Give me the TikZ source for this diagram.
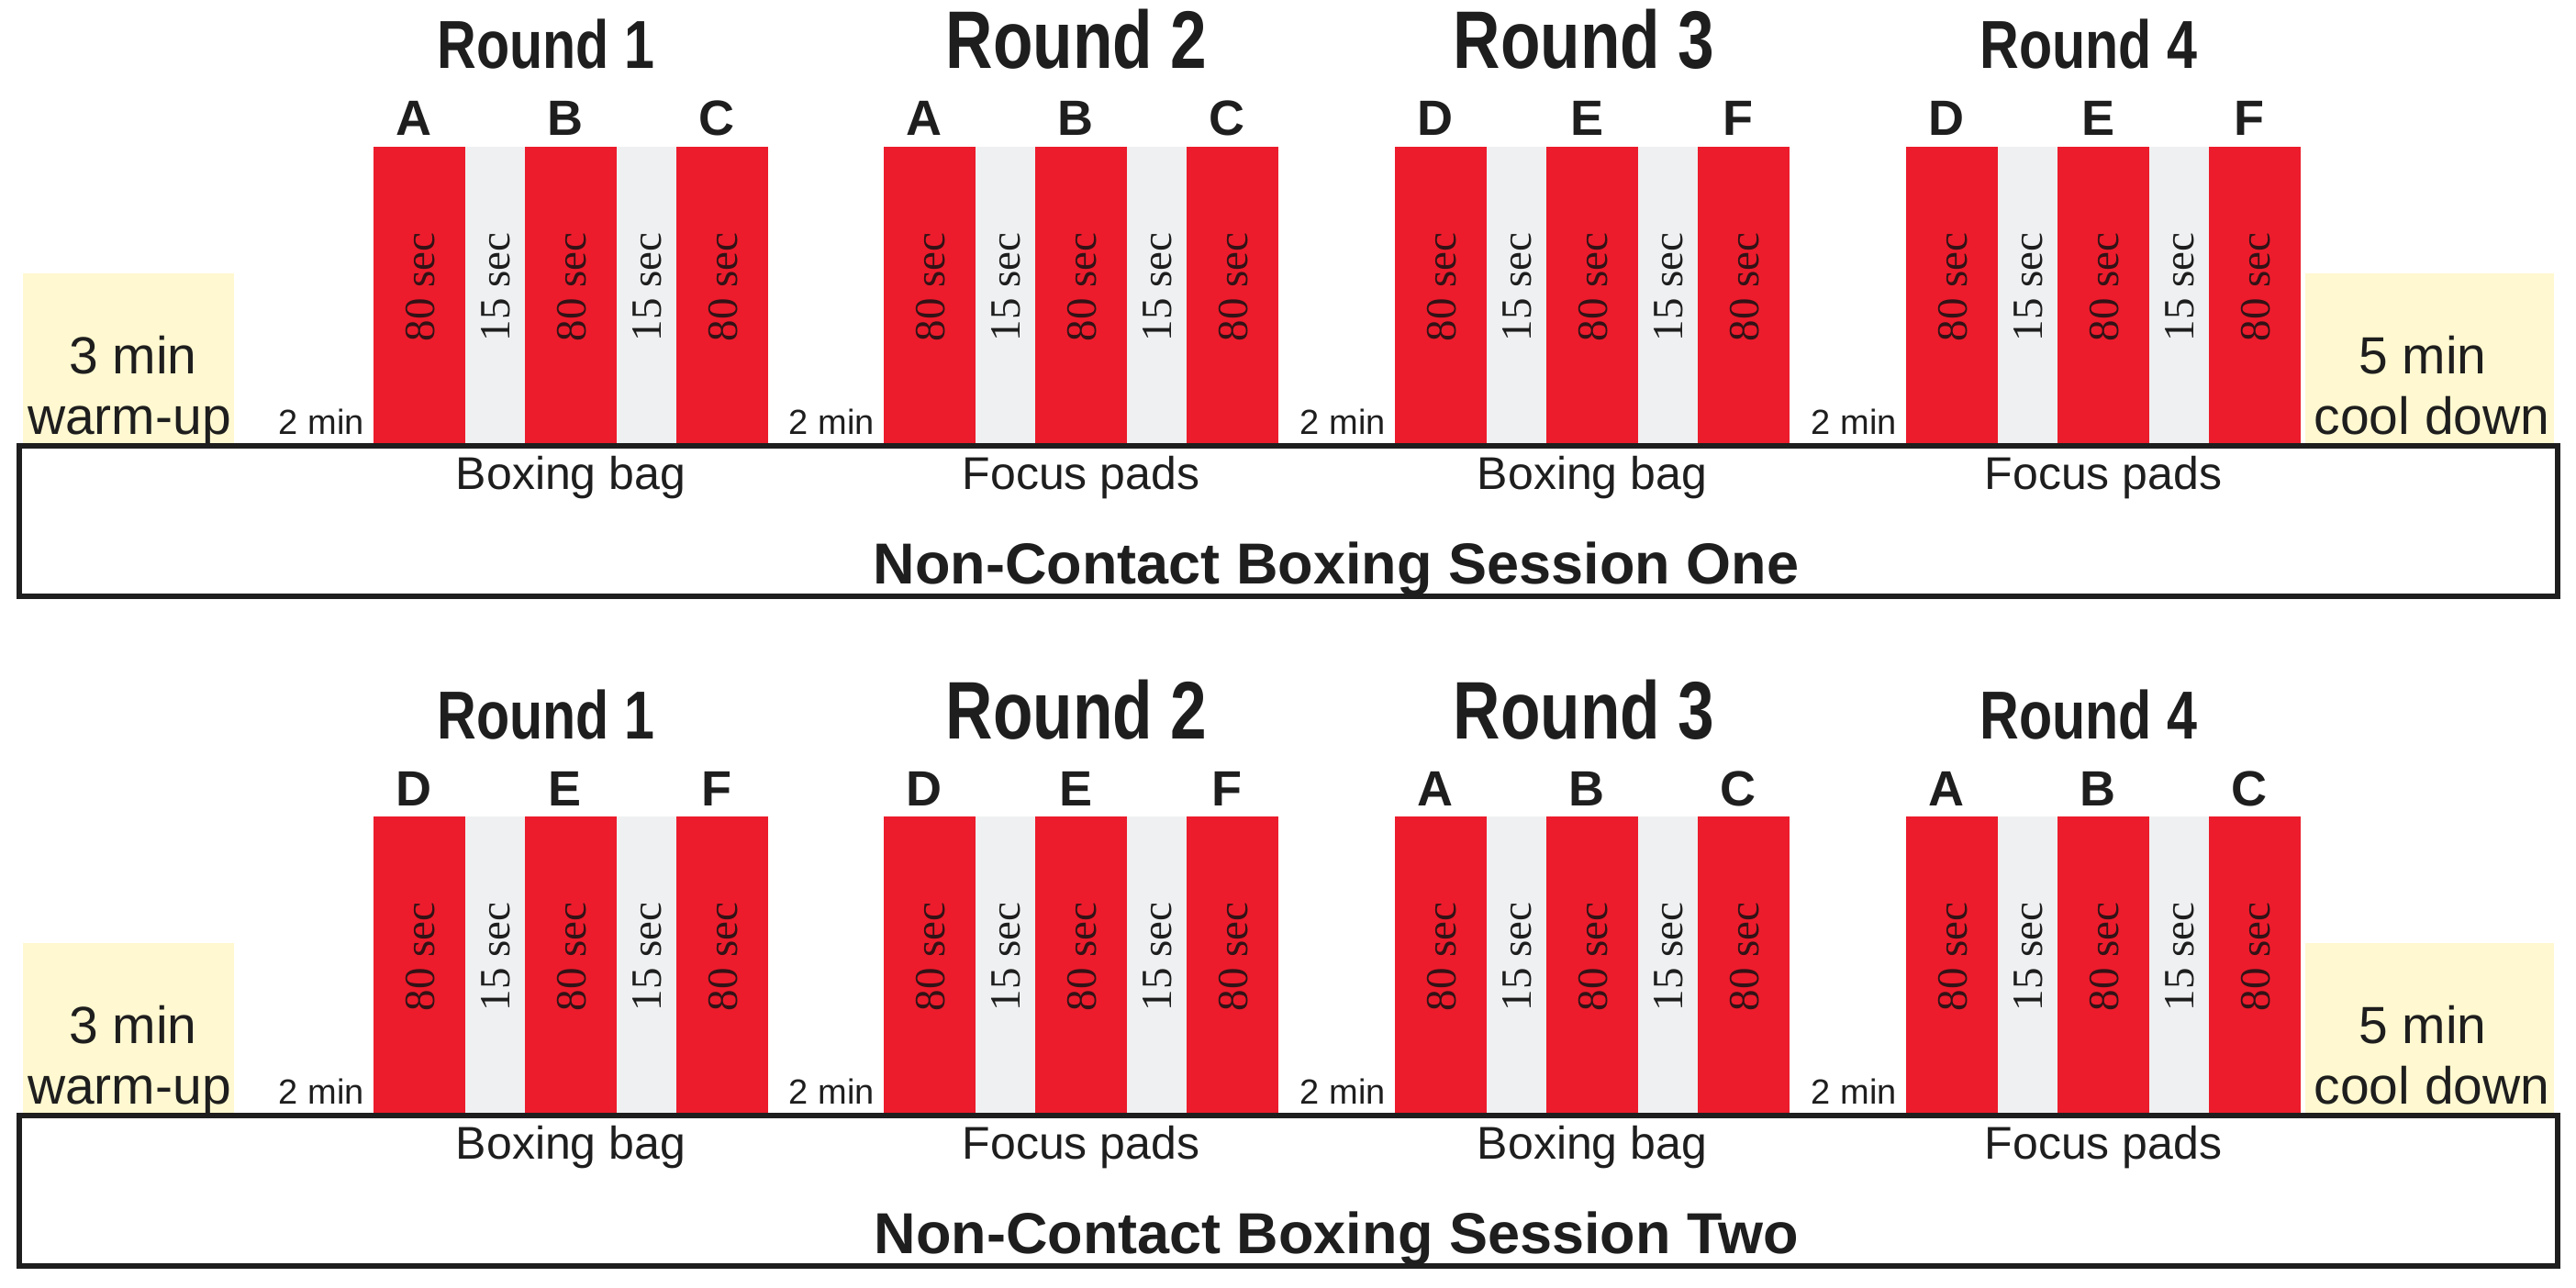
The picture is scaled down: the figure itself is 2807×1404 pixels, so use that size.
\documentclass[tikz,border=0pt]{standalone}
\usepackage{fontspec}
\setmainfont{Liberation Sans}
\newfontfamily\timesf{Liberation Serif}
\newfontfamily\narrowf{Liberation Sans}[FakeStretch=0.80]
\definecolor{barred}{RGB}{236,28,44}
\definecolor{restgray}{RGB}{239,240,241}
\definecolor{warmyellow}{RGB}{255,248,208}
\definecolor{ink}{RGB}{30,30,30}
\definecolor{redink}{RGB}{50,18,22}
\newcommand\drawsession[4]{%
  % #1 session number, #2 vertical offset, #3 title word, #4 rounds list
  \node[yellowbox] (warm#1) at (25,298+#2) {};
  \node[yellowbox, minimum width=271pt] (cool#1) at (2512,298+#2) {};
  \node[sidetext] (warmA#1) at (145,407+#2) {3 min};
  \node[sidetext] (warmB#1) at (141,473+#2) {warm-up};
  \node[sidetext] (coolA#1) at (2640,407+#2) {5 min};
  \node[sidetext] (coolB#1) at (2650,473+#2) {cool down};
  \foreach \rn/\x/\la/\lb/\lc/\eq/\tx/\ts in {#4} {
    \node[redbar]  (s#1r\rn a) at (\x,160+#2) {};
    \node[graybar] (s#1r\rn g) at (\x+100,160+#2) {};
    \node[redbar]  (s#1r\rn b) at (\x+165,160+#2) {};
    \node[graybar] (s#1r\rn h) at (\x+265,160+#2) {};
    \node[redbar]  (s#1r\rn c) at (\x+330,160+#2) {};
    \node[worktext] (s#1r\rn ta) at (\x+50,313+#2) {80 sec};
    \node[resttext] (s#1r\rn tg) at (\x+132.5,313+#2) {15 sec};
    \node[worktext] (s#1r\rn tb) at (\x+215,313+#2) {80 sec};
    \node[resttext] (s#1r\rn th) at (\x+297.5,313+#2) {15 sec};
    \node[worktext] (s#1r\rn tc) at (\x+380,313+#2) {80 sec};
    \node[station] (s#1r\rn la) at (\x+44,148+#2) {\la};
    \node[station] (s#1r\rn lb) at (\x+209,148+#2) {\lb};
    \node[station] (s#1r\rn lc) at (\x+374,148+#2) {\lc};
    \node[roundtitle, font={\narrowf\bfseries\fontsize{\ts}{\ts}\selectfont}]
      (s#1r\rn title) at (\tx,75+#2) {Round \rn};
    \node[resttime] (s#1r\rn rest) at (\x-10,473+#2) {2 min};
    \node[equip] (s#1r\rn eq) at (\x+215,533+#2) {\eq};
  }
  \node[sessbox] (box#1) at (1404,568+#2) {};
  \node[sesstitle] (title#1) at (1456,636+#2) {Non-Contact Boxing Session #3};
}
\begin{document}
\begin{tikzpicture}[x=1pt,y=-1pt,
  redbar/.style={fill=barred, draw=none, inner sep=0pt, minimum width=100pt, minimum height=326pt, anchor=north west},
  graybar/.style={fill=restgray, draw=none, inner sep=0pt, minimum width=65pt, minimum height=326pt, anchor=north west},
  yellowbox/.style={fill=warmyellow, draw=none, inner sep=0pt, minimum width=230pt, minimum height=188pt, anchor=north west},
  worktext/.style={rotate=90, inner sep=0pt, text height=32pt, text depth=0pt, text=redink, font=\timesf\fontsize{47}{47}\selectfont},
  resttext/.style={rotate=90, inner sep=0pt, text height=32pt, text depth=0pt, text=ink, font=\timesf\fontsize{47}{47}\selectfont},
  station/.style={anchor=base, inner sep=0pt, text=ink, font=\bfseries\fontsize{54}{54}\selectfont},
  roundtitle/.style={anchor=base, inner sep=0pt, text=ink},
  resttime/.style={anchor=base east, inner sep=0pt, text=ink, font=\fontsize{38}{38}\selectfont},
  sidetext/.style={anchor=base, inner sep=0pt, text=ink, font=\fontsize{57}{57}\selectfont},
  equip/.style={anchor=base, inner sep=0pt, text=ink, font=\fontsize{50}{50}\selectfont},
  sessbox/.style={draw=ink, line width=6pt, inner sep=0pt, minimum width=2766pt, minimum height=164pt},
  sesstitle/.style={anchor=base, inner sep=0pt, text=ink, font=\bfseries\fontsize{63}{63}\selectfont}
]
\useasboundingbox (0,0) rectangle (2807,1404);
\fill[white] (0,0) rectangle (2807,1404);
\drawsession{1}{0}{One}{1/407/A/B/C/Boxing bag/595/74, 2/963/A/B/C/Focus pads/1173/89, 3/1520/D/E/F/Boxing bag/1726/89, 4/2077/D/E/F/Focus pads/2276/74}
\drawsession{2}{730}{Two}{1/407/D/E/F/Boxing bag/595/74, 2/963/D/E/F/Focus pads/1173/89, 3/1520/A/B/C/Boxing bag/1726/89, 4/2077/A/B/C/Focus pads/2276/74}
\end{tikzpicture}
\end{document}
